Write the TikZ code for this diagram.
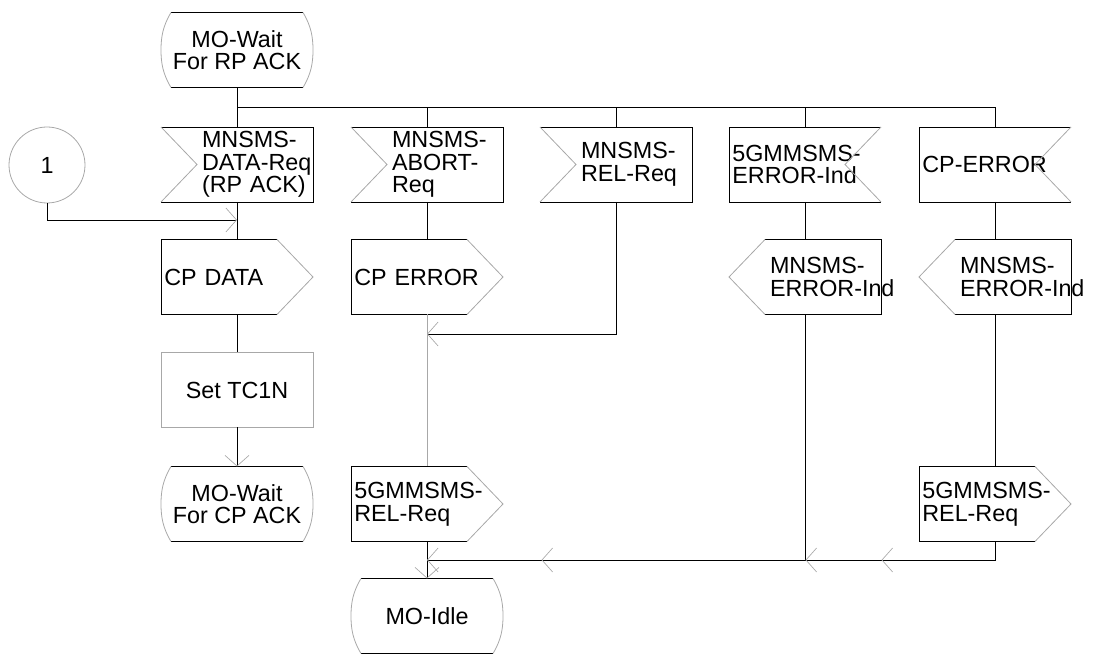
\documentclass[tikz,border=0pt]{standalone}
\usepackage{fontspec}
\setmainfont{Liberation Sans}
\usetikzlibrary{arrows.meta, decorations.markings}
\definecolor{trait}{HTML}{000000}
\definecolor{pale}{HTML}{A8A8A8}
\exhyphenpenalty=10000
\hyphenpenalty=10000
\hbadness=10000
\hfuzz=200pt

\tikzset{
  barbtip/.tip={Straight Barb[length=8pt, width=18pt, line width=0.5pt, color=pale]},
  sdl/.style={minimum width=114pt, minimum height=56.25pt, inner ysep=0pt, outer sep=0pt,
    font=\fontsize{17.5pt}{17pt}\selectfont},
  padwide/.style={sdl, inner xsep=30.75pt, text width=52.5pt, align=left},
  padslim/.style={sdl, inner xsep=2.5pt, text width=109pt, align=left},
  etat/.style={sdl, align=center},
  tache/.style={sdl, draw=pale, line width=0.6pt, align=center},
  renvoi/.style={circle, draw=pale, line width=0.6pt, minimum size=57pt, inner sep=0pt,
    font=\fontsize{17.5pt}{17pt}\selectfont},
  hard/.style={draw=trait, line width=0.6pt},
  soft/.style={draw=pale, line width=0.6pt},
  flow/.style={hard, -barbtip},
}

\begin{document}
\begin{tikzpicture}[x=0.75pt, y=-0.75pt]
  \useasboundingbox (0,0) rectangle (1093,655);

  % Etats
  \node[etat] (stRP) at (237,50) {MO-Wait\\For RP ACK};
  \node[etat] (stCP) at (237,504) {MO-Wait\\For CP ACK};
  \node[etat] (stIdle) at (427,616) {MO-Idle};

  % Connecteur
  \node[renvoi] (one) at (47,165) {1};

  % Entrees
  \node[padwide] (inData) at (237,164.5) {MNSMS-\\DATA-Req\\\mbox{(RP ACK)}};
  \node[padwide] (inAbort) at (427,164.5) {MNSMS-\\ABORT-\\Req};
  \node[padwide] (inRel) at (616,164.5) {MNSMS-\\REL-Req};
  \node[padslim] (inErr5g) at (805,164.5) {5GMMSMS-\\ERROR-Ind};
  \node[padslim] (inCpErr) at (995,164.5) {CP-ERROR};

  % Sorties
  \node[padslim] (outCpData) at (237,277) {CP DATA};
  \node[padslim] (outCpError) at (427,277) {CP ERROR};
  \node[padwide] (outErrA) at (805,277) {MNSMS-\\ERROR-Ind};
  \node[padwide] (outErrB) at (995,277) {MNSMS-\\ERROR-Ind};
  \node[padslim] (outRelA) at (427,504) {5GMMSMS-\\REL-Req};
  \node[padslim] (outRelB) at (995,504) {5GMMSMS-\\REL-Req};

  % Tache
  \node[tache] (setTc) at (237,390) {Set TC1N};

  % Contours des symboles
  \foreach \n in {stRP, stCP, stIdle} {
    \draw[hard] ([xshift=7.5pt]\n.north west) -- ([xshift=-7.5pt]\n.north east);
    \draw[hard] ([xshift=7.5pt]\n.south west) -- ([xshift=-7.5pt]\n.south east);
    \draw[soft] ([xshift=7.5pt]\n.north west) .. controls ([xshift=1.5pt, yshift=-10pt]\n.north west) and ([yshift=10pt]\n.west) .. (\n.west)
      .. controls ([yshift=-10pt]\n.west) and ([xshift=1.5pt, yshift=10pt]\n.south west) .. ([xshift=7.5pt]\n.south west);
    \draw[soft] ([xshift=-7.5pt]\n.north east) .. controls ([xshift=-1.5pt, yshift=-10pt]\n.north east) and ([yshift=10pt]\n.east) .. (\n.east)
      .. controls ([yshift=-10pt]\n.east) and ([xshift=-1.5pt, yshift=10pt]\n.south east) .. ([xshift=-7.5pt]\n.south east);
  }
  \foreach \n in {inData, inAbort, inRel} {
    \draw[hard] (\n.north west) -- (\n.north east) -- (\n.south east) -- (\n.south west);
    \draw[soft] (\n.north west) -- ([xshift=27pt]\n.west) -- (\n.south west);
  }
  \foreach \n in {inErr5g, inCpErr} {
    \draw[hard] (\n.north east) -- (\n.north west) -- (\n.south west) -- (\n.south east);
    \draw[soft] (\n.north east) -- ([xshift=-27pt]\n.east) -- (\n.south east);
  }
  \foreach \n in {outCpData, outCpError, outRelA, outRelB} {
    \draw[hard] ([xshift=-27pt]\n.north east) -- (\n.north west) -- (\n.south west) -- ([xshift=-27pt]\n.south east);
    \draw[soft] ([xshift=-27pt]\n.north east) -- (\n.east) -- ([xshift=-27pt]\n.south east);
  }
  \foreach \n in {outErrA, outErrB} {
    \draw[hard] ([xshift=27pt]\n.north west) -- (\n.north east) -- (\n.south east) -- ([xshift=27pt]\n.south west);
    \draw[soft] ([xshift=27pt]\n.north west) -- (\n.west) -- ([xshift=27pt]\n.south west);
  }

  % Points de jonction
  \coordinate (bus) at (237,107);
  \coordinate (j1) at (237,220);
  \coordinate (j2) at (427,334);
  \coordinate (j3) at (427,560);

  % Liaisons
  \draw[hard] (stRP) -- (inData);
  \foreach \n in {inAbort, inRel, inErr5g, inCpErr}
    \draw[hard] (bus) -| (\n.north);
  \draw[flow] (one.south) |- (j1);
  \draw[hard] (inData) -- (outCpData);
  \draw[hard] (outCpData) -- (setTc);
  \draw[flow] (setTc) -- (stCP);
  \draw[hard] (inAbort) -- (outCpError);
  \draw[soft] (outCpError) -- (outRelA);
  \draw[flow] (inRel.south) |- (j2);
  \draw[flow] (outRelA) -- (stIdle);
  \draw[hard] (inErr5g) -- (outErrA);
  \draw[hard] (outErrA.south) -- (outErrA.south |- j3);
  \draw[hard] (inCpErr) -- (outErrB);
  \draw[hard] (outErrB) -- (outRelB);
  \draw[flow, postaction={decorate}, decoration={markings,
      mark=at position 99pt with {\arrow{barbtip}},
      mark=at position 156pt with {\arrow{barbtip}},
      mark=at position 354pt with {\arrow{barbtip}}}]
    (outRelB.south) |- (j3);
\end{tikzpicture}
\end{document}
